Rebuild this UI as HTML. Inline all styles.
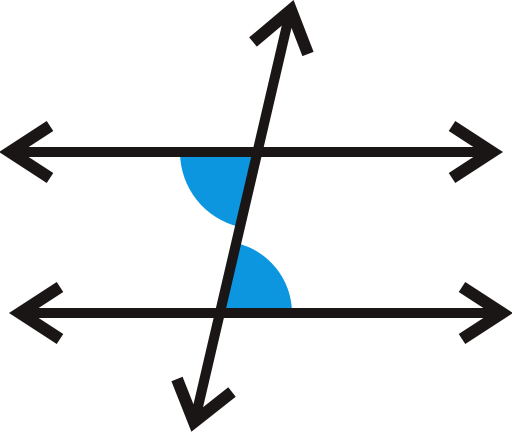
<!DOCTYPE html>
<html><head><meta charset="utf-8"><style>
html,body{margin:0;padding:0;background:#fff;}
svg{display:block;}
</style></head><body>
<svg width="512" height="434" viewBox="0 0 512 434">
  <path d="M257,152 L180,152 A77,77 0 0 0 239.5,227 Z" fill="#0d96e0"/>
  <path d="M220,313 L292,313 A72,72 0 0 0 236,243 Z" fill="#0d96e0"/>
  <g stroke="#1a1616" fill="none" stroke-linecap="butt" stroke-linejoin="miter">
    <line x1="8" y1="152" x2="494" y2="152" stroke-width="10"/>
    <line x1="18" y1="313" x2="504" y2="313" stroke-width="10"/>
    <line x1="291" y1="8" x2="194" y2="424" stroke-width="10"/>
    <g stroke-width="12">
      <polyline points="50,126 10,152 50,178"/>
      <polyline points="452,126 492,152 452,178"/>
      <polyline points="60,287 20,313 60,339"/>
      <polyline points="462,287 502,313 462,339"/>
      <polyline points="253,42 291,10 308,54"/>
      <polyline points="177,379 194,422 232,392"/>
    </g>
  </g>
</svg>
</body></html>
